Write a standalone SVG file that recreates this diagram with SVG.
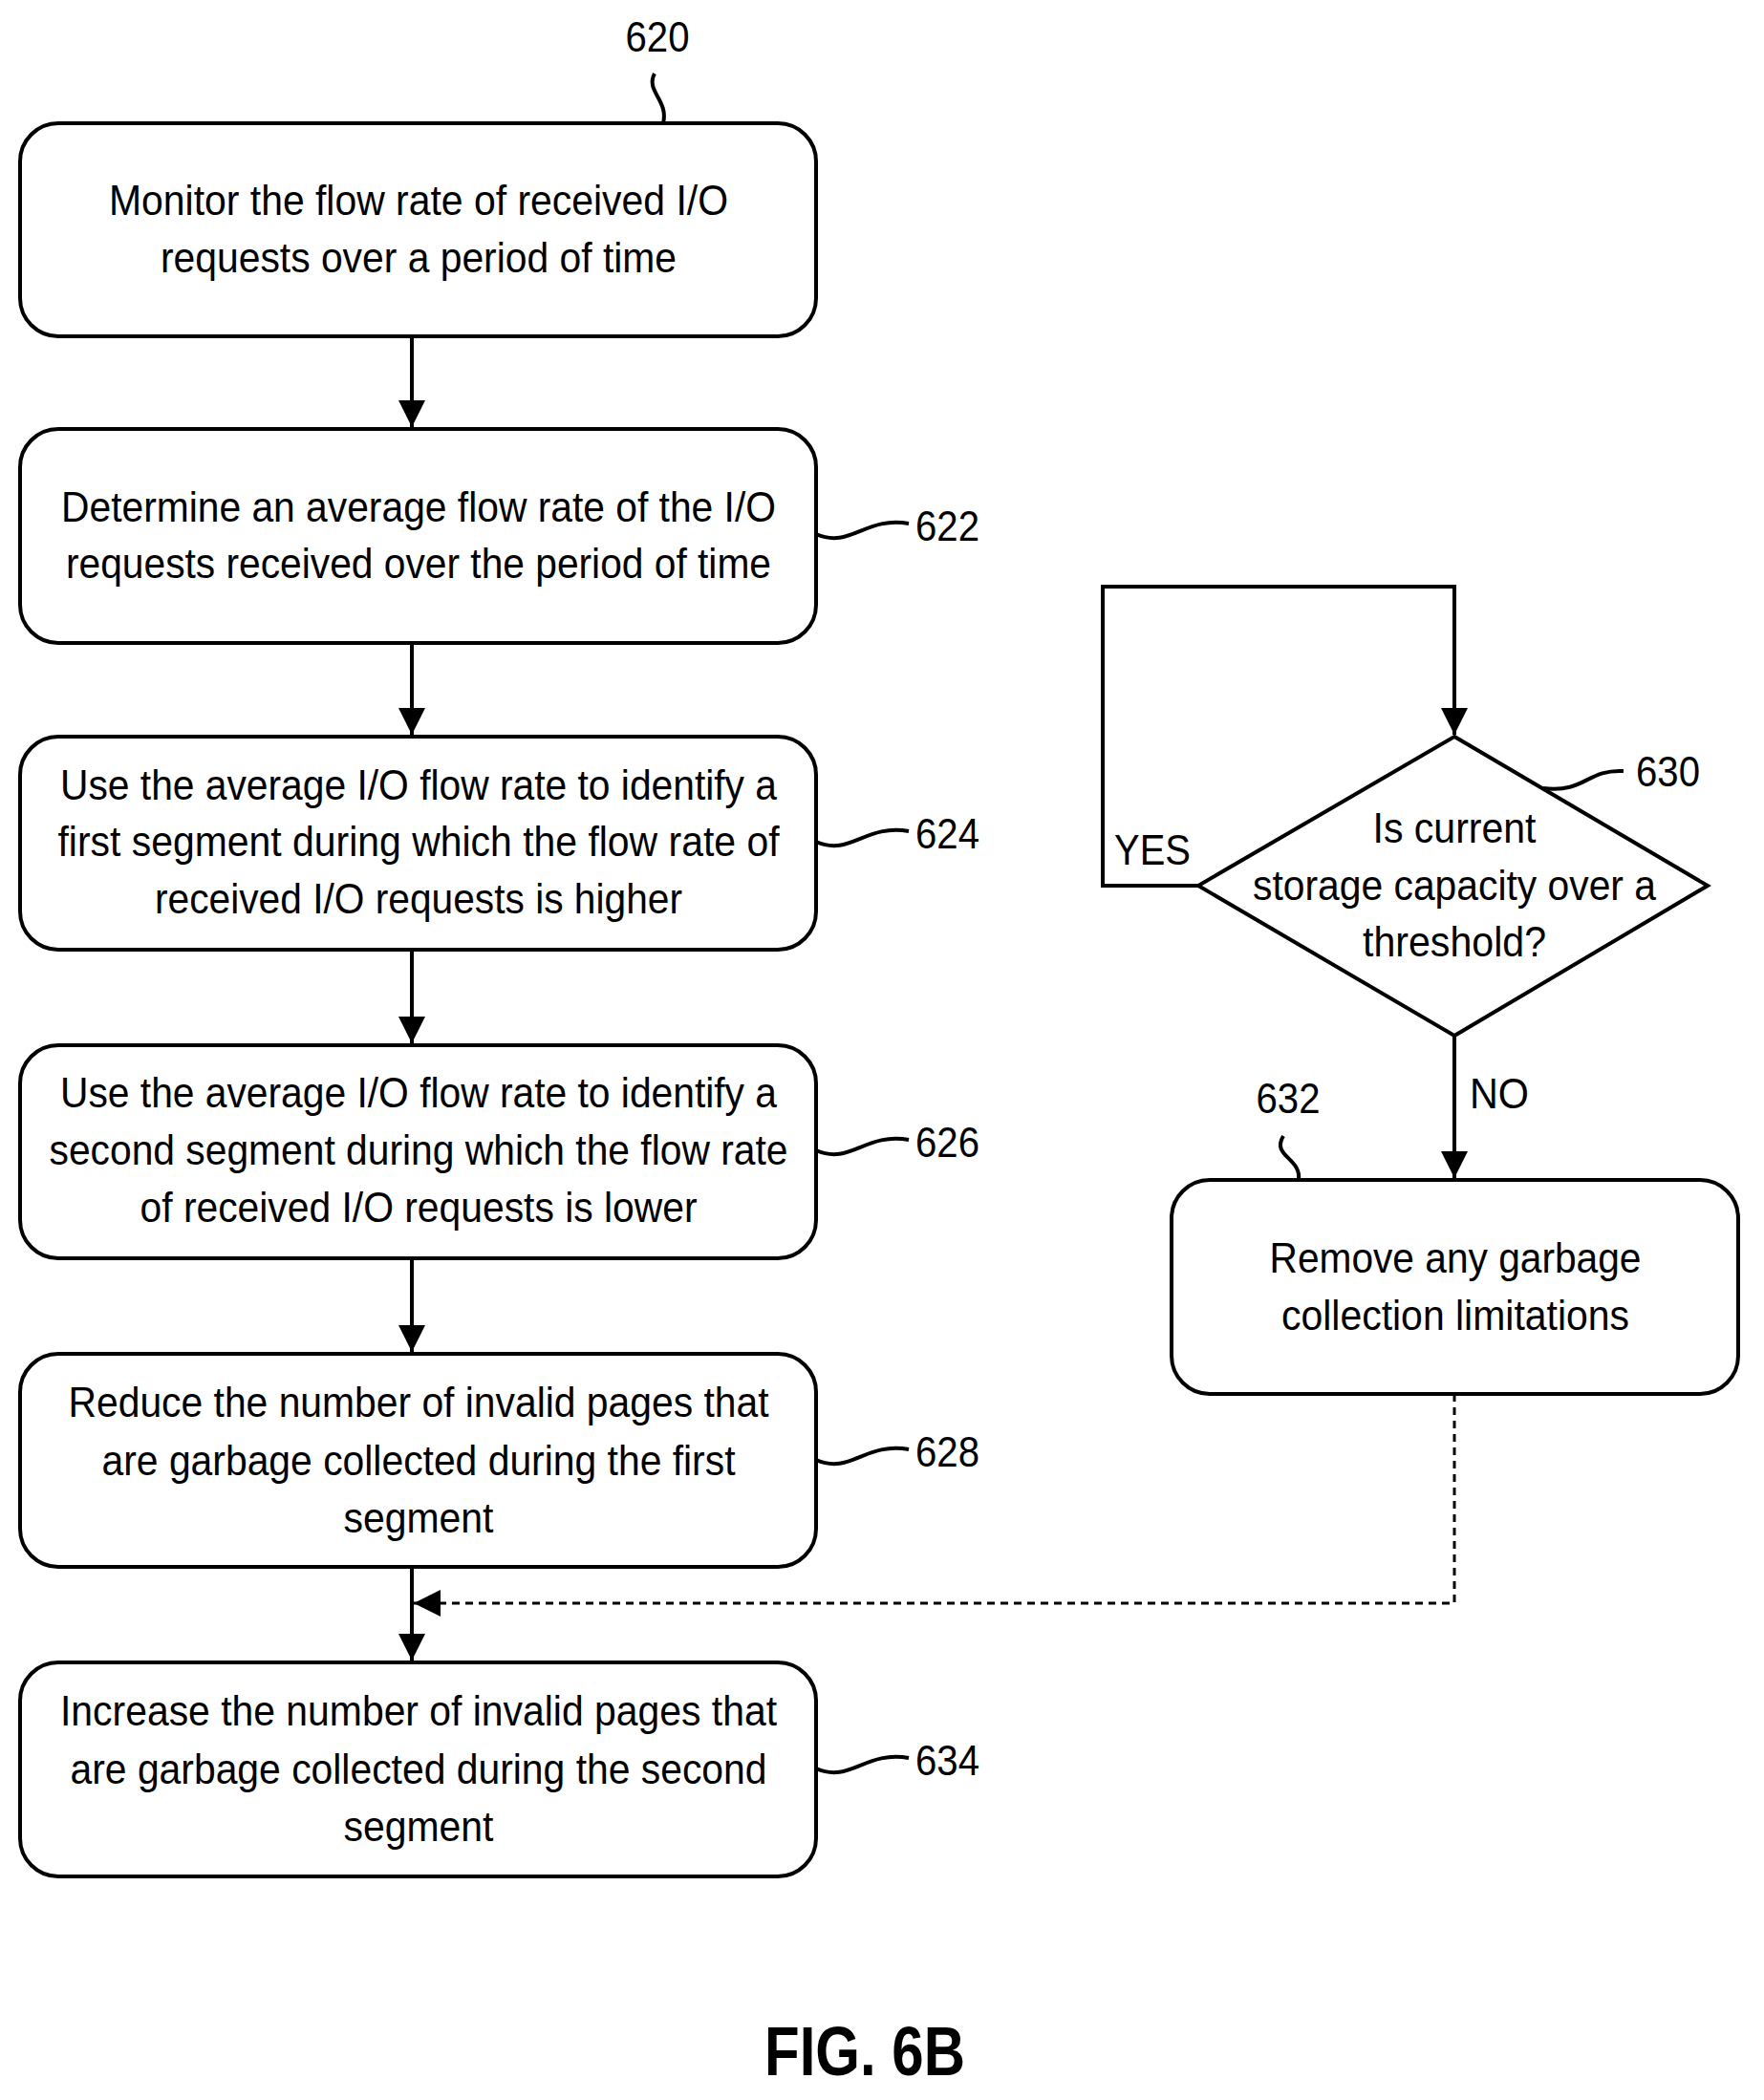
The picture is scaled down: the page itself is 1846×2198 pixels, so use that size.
<svg xmlns="http://www.w3.org/2000/svg" width="1846" height="2198" viewBox="0 0 1846 2198">
<style>
.b{fill:#fff;stroke:#000;stroke-width:4}
.l{fill:none;stroke:#000;stroke-width:4}
.d{fill:none;stroke:#000;stroke-width:3;stroke-dasharray:8,6}
text{font-family:"Liberation Sans",Arial,sans-serif;font-size:44px;fill:#000;text-anchor:middle}
.n{text-anchor:start}
</style>
<defs><marker id="a" markerWidth="12" markerHeight="12" refX="10" refY="6" orient="auto" markerUnits="userSpaceOnUse"><path d="M0,0 L12,6 L0,12 z" transform="scale(1)"/></marker>
<marker id="ah" viewBox="0 0 10 10" markerWidth="28" markerHeight="28" refX="10" refY="5" orient="auto" markerUnits="userSpaceOnUse"><path d="M0,0 L10,5 L0,10 z"/></marker></defs>
<g id="n620"><rect class="b" x="21" y="129" width="833" height="223" rx="40"/>
<text x="438" y="225" textLength="648" lengthAdjust="spacingAndGlyphs">Monitor the flow rate of received I/O</text>
<text x="438" y="285" textLength="540" lengthAdjust="spacingAndGlyphs">requests over a period of time</text>
<text x="688" y="54" textLength="67" lengthAdjust="spacingAndGlyphs">620</text>
<path class="l" d="M685,77 C675,95 700,105 694,129"/></g>
<g id="n622"><rect class="b" x="21" y="449" width="833" height="224" rx="40"/>
<text x="438" y="546" textLength="748" lengthAdjust="spacingAndGlyphs">Determine an average flow rate of the I/O</text>
<text x="438" y="605" textLength="738" lengthAdjust="spacingAndGlyphs">requests received over the period of time</text>
<text class="n" x="958" y="566" textLength="67" lengthAdjust="spacingAndGlyphs">622</text>
<path class="l" d="M854,559 C890,575 905,540 951,548"/></g>
<g id="n624"><rect class="b" x="21" y="771" width="833" height="223" rx="40"/>
<text x="438" y="837" textLength="750" lengthAdjust="spacingAndGlyphs">Use the average I/O flow rate to identify a</text>
<text x="438" y="896" textLength="755" lengthAdjust="spacingAndGlyphs">first segment during which the flow rate of</text>
<text x="438" y="956" textLength="552" lengthAdjust="spacingAndGlyphs">received I/O requests is higher</text>
<text class="n" x="958" y="888" textLength="67" lengthAdjust="spacingAndGlyphs">624</text>
<path class="l" d="M854,881 C890,897 905,862 951,870"/></g>
<g id="n626"><rect class="b" x="21" y="1094" width="833" height="223" rx="40"/>
<text x="438" y="1159" textLength="750" lengthAdjust="spacingAndGlyphs">Use the average I/O flow rate to identify a</text>
<text x="438" y="1219" textLength="773" lengthAdjust="spacingAndGlyphs">second segment during which the flow rate</text>
<text x="438" y="1279" textLength="583" lengthAdjust="spacingAndGlyphs">of received I/O requests is lower</text>
<text class="n" x="958" y="1211" textLength="67" lengthAdjust="spacingAndGlyphs">626</text>
<path class="l" d="M854,1204 C890,1220 905,1185 951,1193"/></g>
<g id="n628"><rect class="b" x="21" y="1417" width="833" height="223" rx="40"/>
<text x="438" y="1483" textLength="733" lengthAdjust="spacingAndGlyphs">Reduce the number of invalid pages that</text>
<text x="438" y="1544" textLength="663" lengthAdjust="spacingAndGlyphs">are garbage collected during the first</text>
<text x="438" y="1604" textLength="157" lengthAdjust="spacingAndGlyphs">segment</text>
<text class="n" x="958" y="1535" textLength="67" lengthAdjust="spacingAndGlyphs">628</text>
<path class="l" d="M854,1528 C890,1544 905,1509 951,1517"/></g>
<g id="n634"><rect class="b" x="21" y="1740" width="833" height="224" rx="40"/>
<text x="438" y="1806" textLength="750" lengthAdjust="spacingAndGlyphs">Increase the number of invalid pages that</text>
<text x="438" y="1867" textLength="729" lengthAdjust="spacingAndGlyphs">are garbage collected during the second</text>
<text x="438" y="1927" textLength="157" lengthAdjust="spacingAndGlyphs">segment</text>
<text class="n" x="958" y="1858" textLength="67" lengthAdjust="spacingAndGlyphs">634</text>
<path class="l" d="M854,1851 C890,1867 905,1832 951,1840"/></g>
<g id="n630"><polygon class="b" points="1522,771 1787,927 1522,1084 1254,927"/>
<text x="1522" y="882" textLength="171" lengthAdjust="spacingAndGlyphs">Is current</text>
<text x="1522" y="942" textLength="422" lengthAdjust="spacingAndGlyphs">storage capacity over a</text>
<text x="1522" y="1001" textLength="192" lengthAdjust="spacingAndGlyphs">threshold?</text>
<text class="n" x="1712" y="823" textLength="67" lengthAdjust="spacingAndGlyphs">630</text>
<path class="l" d="M1615,825 C1660,830 1660,805 1699,807"/></g>
<g id="n632"><rect class="b" x="1226" y="1235" width="593" height="224" rx="40"/>
<text x="1523" y="1332" textLength="389" lengthAdjust="spacingAndGlyphs">Remove any garbage</text>
<text x="1523" y="1392" textLength="364" lengthAdjust="spacingAndGlyphs">collection limitations</text>
<text x="1348" y="1165" textLength="67" lengthAdjust="spacingAndGlyphs">632</text>
<path class="l" d="M1343,1189 C1330,1210 1362,1212 1359,1235"/></g>
<g id="connectors">
<path class="l" d="M431,352 V447" marker-end="url(#ah)"/>
<path class="l" d="M431,673 V769" marker-end="url(#ah)"/>
<path class="l" d="M431,994 V1092" marker-end="url(#ah)"/>
<path class="l" d="M431,1317 V1415" marker-end="url(#ah)"/>
<path class="l" d="M431,1640 V1738" marker-end="url(#ah)"/>
<path class="l" d="M1254,927 H1154 V614 H1522 V769" marker-end="url(#ah)"/>
<path class="l" d="M1522,1084 V1233" marker-end="url(#ah)"/>
<path class="d" d="M1522,1459 V1678 H433" marker-end="url(#ah)"/>
<text class="n" x="1166" y="905" textLength="80" lengthAdjust="spacingAndGlyphs">YES</text>
<text class="n" x="1538" y="1160" textLength="62" lengthAdjust="spacingAndGlyphs">NO</text>
</g>
<text x="905" y="2172" style="font-size:72px;font-weight:bold" textLength="210" lengthAdjust="spacingAndGlyphs">FIG. 6B</text>
</svg>
